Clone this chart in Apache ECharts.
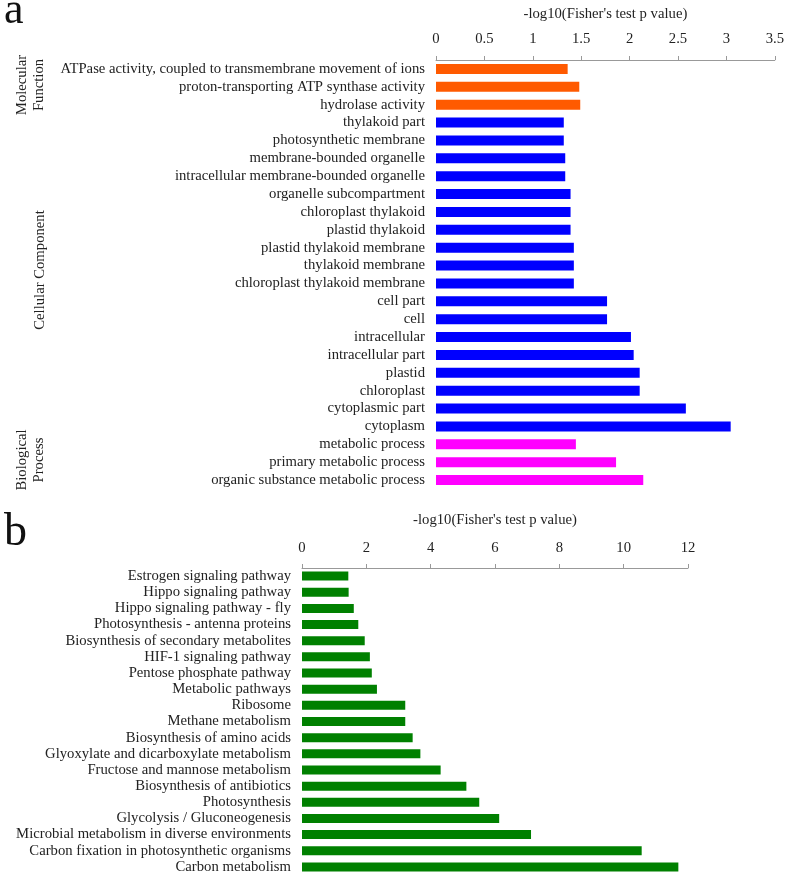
<!DOCTYPE html>
<html>
<head>
<meta charset="utf-8">
<script src="https://cdn.jsdelivr.net/npm/echarts@6/dist/echarts.min.js"></script>
<style>html,body{margin:0;padding:0;background:#fff}#c{width:787px;height:880px}</style>
</head>
<body>
<div id="c"></div>
<script>
// ---- Panel a data ----
var catA = [
  'ATPase activity, coupled to transmembrane movement of ions',
  'proton-transporting ATP synthase activity',
  'hydrolase activity',
  'thylakoid part',
  'photosynthetic membrane',
  'membrane-bounded organelle',
  'intracellular membrane-bounded organelle',
  'organelle subcompartment',
  'chloroplast thylakoid',
  'plastid thylakoid',
  'plastid thylakoid membrane',
  'thylakoid membrane',
  'chloroplast thylakoid membrane',
  'cell part',
  'cell',
  'intracellular',
  'intracellular part',
  'plastid',
  'chloroplast',
  'cytoplasmic part',
  'cytoplasm',
  'metabolic process',
  'primary metabolic process',
  'organic substance metabolic process'
];
var valA = [1.36, 1.48, 1.49, 1.32, 1.32, 1.335, 1.335, 1.39, 1.39, 1.39, 1.424, 1.424, 1.424,
  1.767, 1.767, 2.014, 2.042, 2.104, 2.104, 2.581, 3.044, 1.445, 1.86, 2.141];
var groupA = ['MF','MF','MF','CC','CC','CC','CC','CC','CC','CC','CC','CC','CC','CC','CC','CC','CC','CC','CC','CC','CC','BP','BP','BP'];
var ticksA = [0, 0.5, 1, 1.5, 2, 2.5, 3, 3.5];

// ---- Panel b data ----
var catB = [
  'Estrogen signaling pathway',
  'Hippo signaling pathway',
  'Hippo signaling pathway - fly',
  'Photosynthesis - antenna proteins',
  'Biosynthesis of secondary metabolites',
  'HIF-1 signaling pathway',
  'Pentose phosphate pathway',
  'Metabolic pathways',
  'Ribosome',
  'Methane metabolism',
  'Biosynthesis of amino acids',
  'Glyoxylate and dicarboxylate metabolism',
  'Fructose and mannose metabolism',
  'Biosynthesis of antibiotics',
  'Photosynthesis',
  'Glycolysis / Gluconeogenesis',
  'Microbial metabolism in diverse environments',
  'Carbon fixation in photosynthetic organisms',
  'Carbon metabolism'
];
var valB = [1.44, 1.45, 1.61, 1.75, 1.95, 2.11, 2.17, 2.33, 3.21, 3.21, 3.44, 3.68, 4.31, 5.11, 5.51, 6.13, 7.12, 10.56, 11.70];
var ticksB = [0, 2, 4, 6, 8, 10, 12];

var axisTitle = "-log10(Fisher's test p value)";
var groupColors = { MF: '#FF5A00', CC: '#0000FF', BP: '#FF00FF' };
var FONT = 'Liberation Serif';
var FS = 14.7;

var chart = echarts.init(document.getElementById('c'), null, { renderer: 'canvas' });

function xAx(gridIndex, ticks, gap, margin) {
  return {
    gridIndex: gridIndex, type: 'value', position: 'top',
    min: ticks[0], max: ticks[ticks.length - 1], interval: ticks[1] - ticks[0],
    name: axisTitle, nameLocation: 'middle', nameGap: gap,
    nameTextStyle: { fontFamily: FONT, fontSize: FS, color: '#222' },
    axisLine: { show: true, lineStyle: { color: '#999', width: 1 } },
    axisTick: { show: true, length: 4, lineStyle: { color: '#999' } },
    axisLabel: { fontFamily: FONT, fontSize: FS, color: '#222', margin: margin,
      formatter: function (v) { return String(v); } },
    splitLine: { show: false }
  };
}
function yAx(gridIndex, cats) {
  return {
    gridIndex: gridIndex, type: 'category', data: cats, inverse: true,
    axisLine: { show: false }, axisTick: { show: false },
    axisLabel: { fontFamily: FONT, fontSize: FS, color: '#222', margin: 11, interval: 0 }
  };
}

var option = {
  backgroundColor: '#fff',
  animation: false,
  grid: [
    { left: 436, top: 60, width: 340, height: 429, containLabel: false },
    { left: 302, top: 568, width: 386, height: 307, containLabel: false }
  ],
  xAxis: [ xAx(0, ticksA, 38, 13), xAx(1, ticksB, 40, 12) ],
  yAxis: [ yAx(0, catA), yAx(1, catB) ],
  series: [
    {
      type: 'bar', xAxisIndex: 0, yAxisIndex: 0, barWidth: 10,
      data: valA.map(function (v, i) { return { value: v, itemStyle: { color: groupColors[groupA[i]] } }; })
    },
    {
      type: 'bar', xAxisIndex: 1, yAxisIndex: 1, barWidth: 9,
      itemStyle: { color: '#008000' },
      data: valB
    }
  ],
  graphic: [
    { type: 'text', x: 4, y: 11, style: { text: 'a', font: '44px "Liberation Serif"', fill: '#111', textAlign: 'left', textVerticalAlign: 'middle' } },
    { type: 'text', x: 4, y: 533, style: { text: 'b', font: '46px "Liberation Serif"', fill: '#111', textAlign: 'left', textVerticalAlign: 'middle' } },
    { type: 'text', x: 31, y: 85, rotation: Math.PI / 2,
      style: { text: 'Molecular\nFunction', font: FS + 'px "Liberation Serif"', fill: '#222', textAlign: 'center', textVerticalAlign: 'middle', lineHeight: 17 } },
    { type: 'text', x: 40, y: 270, rotation: Math.PI / 2,
      style: { text: 'Cellular Component', font: FS + 'px "Liberation Serif"', fill: '#222', textAlign: 'center', textVerticalAlign: 'middle' } },
    { type: 'text', x: 31, y: 460, rotation: Math.PI / 2,
      style: { text: 'Biological\nProcess', font: FS + 'px "Liberation Serif"', fill: '#222', textAlign: 'center', textVerticalAlign: 'middle', lineHeight: 17 } }
  ]
};
chart.setOption(option);
</script>
</body>
</html>
